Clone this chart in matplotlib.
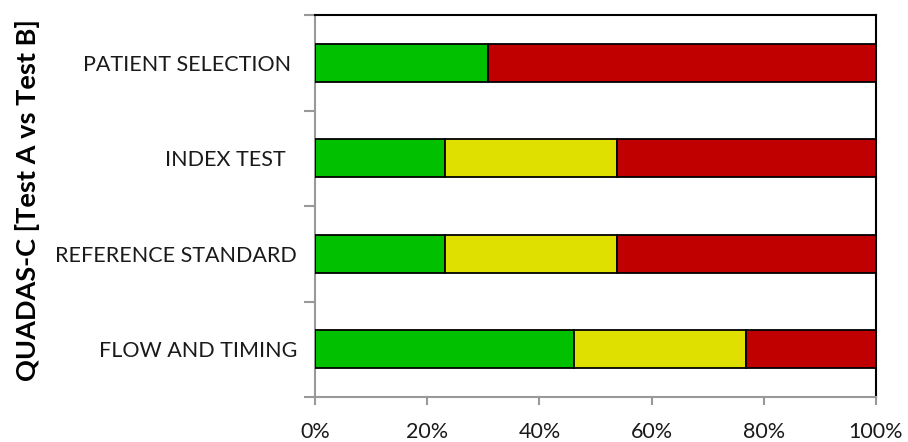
import matplotlib
matplotlib.use("Agg")
import matplotlib.pyplot as plt
import numpy as np
from matplotlib.ticker import FuncFormatter, FixedLocator

plt.rcParams['font.family'] = ['Lato', 'DejaVu Sans']

categories = ["PATIENT SELECTION ", "INDEX TEST  ", "REFERENCE STANDARD", "FLOW AND TIMING"]
low = [30.8, 23.1, 23.1, 46.2]
unclear = [0.0, 30.7, 30.7, 30.7]
high = [69.2, 46.2, 46.2, 23.1]
colors = ["#00C000", "#E0E000", "#C00000"]
ylabel = "QUADAS-C [Test A vs Test B]"

fig = plt.figure(figsize=(9.08, 4.42), dpi=100)
ax = fig.add_axes([315/908, 1-397/442, (876-315)/908, (397-15)/442])

y = np.arange(len(categories))[::-1]
left = np.zeros(len(categories))
for vals, c in zip([low, unclear, high], colors):
    v = np.array(vals)
    ax.barh(y, v, left=left, height=0.4, color=c, edgecolor="black", linewidth=1.3, zorder=3)
    left += v

ax.set_xlim(0, 100)
ax.set_ylim(-0.5, len(categories) - 0.5)
ax.set_xticks(np.arange(0, 101, 20))
ax.xaxis.set_major_formatter(FuncFormatter(lambda v, p: f"{int(v)}%"))
ax.set_yticks(y)
ax.set_yticklabels(categories)
ax.yaxis.set_minor_locator(FixedLocator(np.arange(-0.5, len(categories), 1.0)))
ax.tick_params(axis='y', which='major', length=0, pad=13, labelsize=15.5, colors='#1a1a1a')
ax.tick_params(axis='y', which='minor', length=8, width=1.5, color='#999999', direction='out')
ax.tick_params(axis='x', which='major', length=6, width=1.5, color='#999999', direction='out', labelsize=15.5, labelcolor='#1a1a1a', pad=12)

for s in ['left', 'bottom']:
    ax.spines[s].set_color('#999999')
    ax.spines[s].set_linewidth(1.5)
for s in ['top', 'right']:
    ax.spines[s].set_color('black')
    ax.spines[s].set_linewidth(1.5)

fig.text(28/908, 1 - 200/442, ylabel, rotation=90, ha='center', va='center', fontsize=19.5, fontweight='bold', color='black')

fig.savefig("out.png", dpi=100)
